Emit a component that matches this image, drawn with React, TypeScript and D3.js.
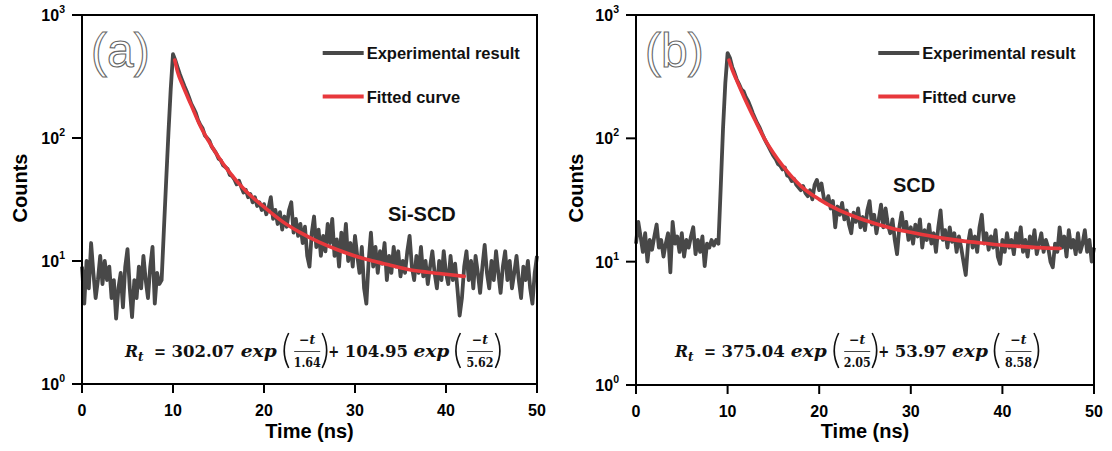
import React from 'react'
import * as d3 from 'd3'

// time between two measured points (ns); both traces start at t = 0
const sampleStep = 0.25

// Si-SCD trace, one row = 2 ns
const countsA = [
  9, 4.5, 10, 6, 14, 8, 5, 7,
  11, 6.5, 10, 7, 9, 5, 7, 3.4,
  6, 8, 4.2, 9, 12.5, 6, 3.5, 7,
  5, 9, 6, 11, 7, 5, 9, 13,
  4.5, 8, 6.5, 7, 18, 45, 110, 250,
  480, 430, 375, 330, 295, 265, 240, 215,
  190, 175, 160, 140, 128, 120, 105, 100,
  95, 85, 80, 75, 68, 66, 60, 58,
  56, 50, 49, 46, 42, 45, 40, 36,
  38, 33, 35, 30, 33, 28, 30, 26,
  29, 24, 27, 33, 22, 26, 20, 25,
  18, 23, 19, 26, 30, 17, 22, 16,
  20, 14, 19, 11, 9, 17, 23, 13,
  18, 11, 16, 12, 20, 14, 22, 11,
  15, 9, 17, 12, 20, 10, 14, 9,
  16, 11, 8, 13, 6, 4.5, 10, 17,
  9, 13, 8, 12, 9.5, 14, 7, 11,
  8, 13, 9, 12, 7.5, 10, 8, 12,
  16, 9, 7, 11, 8, 13, 7.5, 10,
  6.5, 9, 12, 8, 6, 10, 7, 12,
  8, 6.5, 11, 7, 9.5, 6, 3.6, 5,
  9, 12, 7, 10, 6, 11, 8, 5.5,
  9, 13.5, 8, 6, 10, 7, 12, 8,
  5.5, 9, 12, 7, 10, 6, 8, 11,
  7, 5, 9, 7, 10, 6, 4.5, 8,
  11,
]

// SCD trace
const countsB = [
  14, 21, 16, 12, 17, 10, 15, 12.5,
  16, 20, 13, 15, 11, 14, 17, 8.2,
  21, 14, 16, 12, 17, 11, 15, 13,
  16, 19, 11.5, 15, 12, 16, 9.2, 14,
  13, 15, 13.5, 15, 14, 40, 120, 280,
  490, 450, 380, 340, 300, 275, 250, 240,
  215, 200, 180, 160, 145, 132, 122, 110,
  100, 92, 85, 78, 72, 68, 62, 60,
  56, 58, 50, 49, 45, 47, 42, 40,
  38, 41, 36, 34, 38, 32, 42, 46,
  38, 43, 33, 30, 34, 27, 31, 19,
  28, 24, 30, 22, 26, 20, 17, 25,
  21, 27, 19, 23, 18, 26, 31, 20,
  24, 17, 22, 29, 19, 27, 20, 17,
  22, 15, 11.5, 19, 25, 18, 21, 15,
  19, 14, 20, 16, 22, 13, 18, 15,
  20, 14, 17, 12, 19, 26, 15, 18,
  13, 19, 14.5, 17, 12, 16, 13, 10,
  7.8, 14, 18, 13, 16, 12, 19, 24,
  14, 17, 12.5, 16, 13, 18, 11, 9.6,
  15, 12, 17, 13, 15, 11.5, 17, 14,
  19, 12, 15, 11, 16, 13, 18, 11.5,
  14, 17, 12, 15, 13, 10, 9, 14,
  12, 19, 13, 16, 11, 18, 13, 15,
  11.5, 17, 12, 14, 18, 12, 15, 10,
  13,
]

// fitted curves
const fitTimesA = [10.2, 10.5, 11, 12, 13, 14, 15, 16, 18, 20, 22, 24, 26, 28, 30, 32, 34, 36, 38, 40, 42]
const fitCountsA = [430, 345, 275, 185, 125, 92, 70, 55, 37, 27.5, 21, 17, 14.3, 12.4, 11, 10, 9.2, 8.5, 8.1, 7.8, 7.5]
const fitTimesB = [10.15, 10.5, 11, 12, 13, 14, 15, 16, 18, 20, 22, 24, 26, 28, 30, 32, 34, 36, 38, 40, 42, 44, 46.3]
const fitCountsB = [430, 360, 295, 200, 140, 100, 76, 60, 41, 32, 26.5, 23, 20.5, 18.6, 17.3, 16.2, 15.3, 14.6, 14.1, 13.6, 13.3, 13, 12.8]

const xTicks = [0, 10, 20, 30, 40, 50]
const yExponents = [0, 1, 2, 3]
const panelTags = ['(a)', '(b)']
const sampleNames = ['Si-SCD', 'SCD']
const legendLabels = ['Experimental result', 'Fitted curve']
const ampFast = ['302.07', '375.04']
const tauFast = ['1.64', '2.05']
const ampSlow = ['104.95', '53.97']
const tauSlow = ['5.62', '8.58']

const sans = 'Liberation Sans, Arial, Helvetica, sans-serif'
const gray = '#484848'
const red = '#e8383c'

const panels = [
  { left: 82, right: 537, top: 15, bottom: 384, counts: countsA, fitT: fitTimesA, fitV: fitCountsA, nameX: 388, nameY: 221, titleX: 20 },
  { left: 636, right: 1094, top: 15, bottom: 385, counts: countsB, fitT: fitTimesB, fitV: fitCountsB, nameX: 893, nameY: 192, titleX: 576 },
]

// target widths for the formula's numbers (px), forced via textLength
const numWidth = (s: string) =>
  s.split('').reduce((w, c) => w + (c === '.' ? 6.2 : 11.4), 0)

function Paren({ x, base, close }: { x: number; base: number; close?: boolean }) {
  const top = base - 23.5
  const bot = base + 11.5
  const mid = (top + bot) / 2
  const d = close
    ? `M${x},${top} Q${x + 9},${mid} ${x},${bot}`
    : `M${x + 7},${top} Q${x - 2},${mid} ${x + 7},${bot}`
  return <path d={d} fill="none" stroke="#111" strokeWidth={1.6} />
}

function Fraction({ cx, base, tau }: { cx: number; base: number; tau: string }) {
  return (
    <g>
      <text x={cx} y={base - 12.5} fontSize={12.5} textAnchor="middle">
        <tspan>−</tspan>
        <tspan fontStyle="italic">t</tspan>
      </text>
      <line x1={cx - 13} x2={cx + 13} y1={base - 5} y2={base - 5} stroke="#111" strokeWidth={0.8} />
      <text x={cx} y={base + 10} fontSize={12} textAnchor="middle" textLength={27} lengthAdjust="spacingAndGlyphs">
        {tau}
      </text>
    </g>
  )
}

function Formula({ x0, base, i }: { x0: number; base: number; i: number }) {
  const fs = 17.5
  const n1 = x0 + 46.5
  const w1 = numWidth(ampFast[i])
  const e1 = n1 + w1 + 6
  const p1 = e1 + 41
  const plus = p1 + 46.5
  const n2 = plus + 16.5
  const w2 = numWidth(ampSlow[i])
  const e2 = n2 + w2 + 5.5
  const p2 = e2 + 40
  const fit = { lengthAdjust: 'spacingAndGlyphs' as const }
  return (
    <g fontFamily="DejaVu Serif" fontWeight="bold" fill="#111">
      <text x={x0} y={base} fontSize={fs} fontStyle="italic" textLength={13} {...fit}>R</text>
      <text x={x0 + 13} y={base + 4} fontSize={12} fontStyle="italic">t</text>
      <text x={x0 + 29} y={base} fontSize={fs} textLength={12} {...fit}>=</text>
      <text x={n1} y={base} fontSize={fs} textLength={w1} {...fit}>{ampFast[i]}</text>
      <text x={e1} y={base} fontSize={fs} fontStyle="italic" textLength={36} {...fit}>exp</text>
      <Paren x={p1} base={base} />
      <Fraction cx={p1 + 25.5} base={base} tau={tauFast[i]} />
      <Paren x={p1 + 40.5} base={base} close />
      <text x={plus} y={base} fontSize={fs} textLength={11} {...fit}>+</text>
      <text x={n2} y={base} fontSize={fs} textLength={w2} {...fit}>{ampSlow[i]}</text>
      <text x={e2} y={base} fontSize={fs} fontStyle="italic" textLength={36} {...fit}>exp</text>
      <Paren x={p2} base={base} />
      <Fraction cx={p2 + 26.5} base={base} tau={tauSlow[i]} />
      <Paren x={p2 + 42} base={base} close />
    </g>
  )
}

function Panel({ i }: { i: number }) {
  const p = panels[i]
  const x = d3.scaleLinear().domain([0, 50]).range([p.left, p.right])
  const y = d3.scaleLog().domain([1, 1000]).range([p.bottom, p.top])

  const expLine = d3
    .line<number>()
    .x((_, k) => x(k * sampleStep))
    .y((v) => y(v))
  const fitLine = d3
    .line<number>()
    .x((_, k) => x(p.fitT[k]))
    .y((v) => y(v))
    .curve(d3.curveMonotoneX)

  const w = p.right - p.left
  const legX = p.left + 0.529 * w
  const midX = (p.left + p.right) / 2

  return (
    <g>
      <path d={expLine(p.counts) || ''} fill="none" stroke={gray} strokeWidth={3.8} strokeLinejoin="round" />
      <path d={fitLine(p.fitV) || ''} fill="none" stroke={red} strokeWidth={3.6} strokeLinecap="round" />

      <rect x={p.left} y={p.top} width={w} height={p.bottom - p.top} fill="none" stroke="#000" strokeWidth={2} />

      {yExponents.map((e) => (
        <g key={e}>
          <line x1={p.left - 10} x2={p.left} y1={y(10 ** e)} y2={y(10 ** e)} stroke="#000" strokeWidth={2} />
          <text x={p.left - 17} y={y(10 ** e) + 6} textAnchor="end" fontFamily={sans} fontWeight="bold" fontSize={16}>
            10<tspan dy={-8} fontSize={10.5}>{e}</tspan>
          </text>
        </g>
      ))}
      {xTicks.map((t) => (
        <g key={t}>
          <line x1={x(t)} x2={x(t)} y1={p.bottom} y2={p.bottom + 9} stroke="#000" strokeWidth={2} />
          <text x={x(t)} y={p.bottom + 32} textAnchor="middle" fontFamily={sans} fontWeight="bold" fontSize={16}>
            {t}
          </text>
        </g>
      ))}

      <text x={midX} y={438} textAnchor="middle" fontFamily={sans} fontWeight="bold" fontSize={20}>
        Time (ns)
      </text>
      <text
        transform={`translate(${p.titleX + 7},188) rotate(-90)`}
        textAnchor="middle"
        fontFamily={sans}
        fontWeight="bold"
        fontSize={20}
      >
        Counts
      </text>

      <text x={p.left + 9} y={67} fontFamily={sans} fontSize={48} fill="#fff" stroke="#666" strokeWidth={1.1}>
        {panelTags[i]}
      </text>

      {[gray, red].map((c, k) => (
        <g key={k}>
          <line x1={legX} x2={legX + 41} y1={53 + k * 43.5} y2={53 + k * 43.5} stroke={c} strokeWidth={4} />
          <text x={legX + 44} y={59 + k * 43.5} fontFamily={sans} fontWeight="bold" fontSize={16.5} fill="#111">
            {legendLabels[k]}
          </text>
        </g>
      ))}

      <text x={p.nameX} y={p.nameY} fontFamily={sans} fontWeight="bold" fontSize={20} fill="#111">
        {sampleNames[i]}
      </text>

      <Formula x0={p.left + (i === 0 ? 43 : 39)} base={356.5} i={i} />
    </g>
  )
}

export default function App() {
  return (
    <svg
      width={1112}
      height={451}
      style={{ position: 'absolute', left: 0, top: 0, background: '#fff' }}
    >
      <rect width={1112} height={451} fill="#fff" />
      <Panel i={0} />
      <Panel i={1} />
    </svg>
  )
}
